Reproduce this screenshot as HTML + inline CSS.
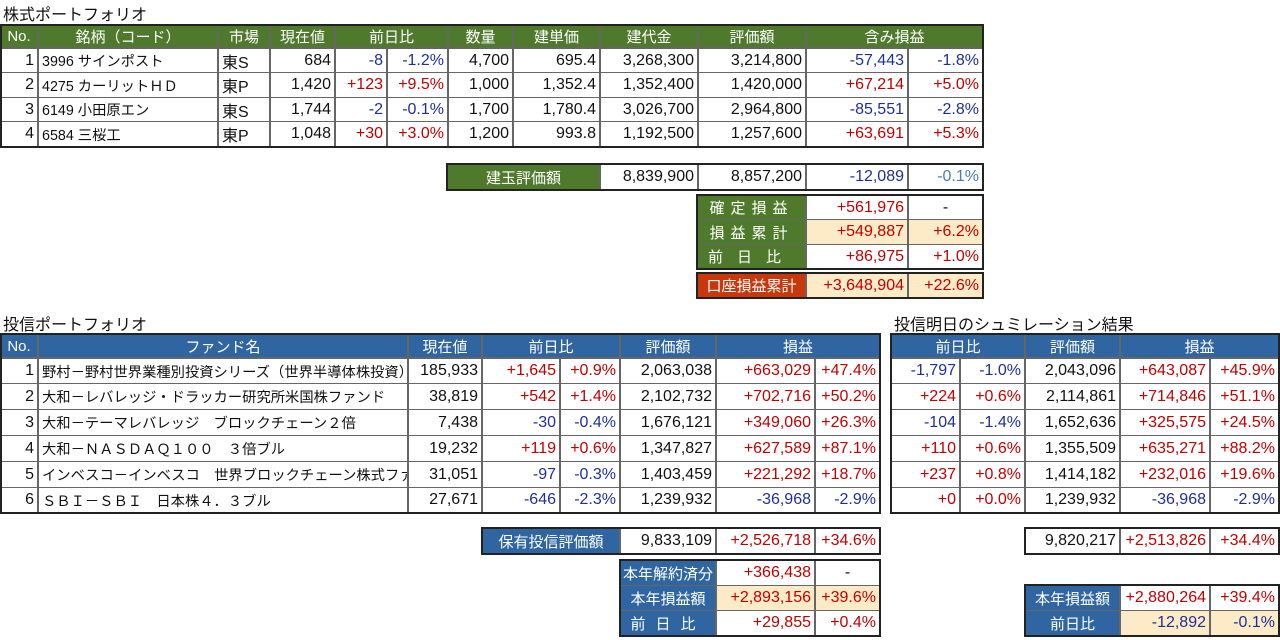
<!DOCTYPE html><html><head><meta charset="utf-8"><style>
body{margin:0;width:1280px;height:640px;background:#fff;position:relative;overflow:hidden;font-family:"Liberation Sans","Noto Sans CJK JP",sans-serif;font-size:16px;color:#111}
.c{position:absolute;box-sizing:border-box;border:1px solid #666;white-space:nowrap;overflow:hidden;display:flex;align-items:center;padding:0 3px;justify-content:flex-end}
.l{justify-content:flex-start;font-size:14.3px}.m{justify-content:center}
.g{background:#4f7a2c;color:#fff;justify-content:center;font-size:15px}
.b{background:#2f65a0;color:#fff;justify-content:center;font-size:15px}
.o{background:#c8380c;color:#fff;justify-content:center;font-size:15px}
.k{background:#fdebc8}
.r{color:#c00000}.u{color:#1f2f9a}.lu{color:#4a7ab8}
.t{position:absolute;font-size:16px}
.box{position:absolute;border:2px solid #222;box-sizing:border-box;pointer-events:none}
</style></head><body>
<div class="t" style="left:3px;top:1px">株式ポートフォリオ</div>
<div class="c g" style="left:0;top:25px;width:38px;height:23px">No.</div>
<div class="c g" style="left:38px;top:25px;width:180px;height:23px">銘柄（コード）</div>
<div class="c g" style="left:218px;top:25px;width:52px;height:23px">市場</div>
<div class="c g" style="left:270px;top:25px;width:65px;height:23px">現在値</div>
<div class="c g" style="left:335px;top:25px;width:113px;height:23px">前日比</div>
<div class="c g" style="left:448px;top:25px;width:65px;height:23px">数量</div>
<div class="c g" style="left:513px;top:25px;width:87px;height:23px">建単価</div>
<div class="c g" style="left:600px;top:25px;width:98px;height:23px">建代金</div>
<div class="c g" style="left:698px;top:25px;width:108px;height:23px">評価額</div>
<div class="c g" style="left:806px;top:25px;width:177px;height:23px">含み損益</div>
<div class="c" style="left:0;top:48px;width:38px;height:25px">1</div><div class="c l" style="left:38px;top:48px;width:180px;height:25px">3996 サインポスト</div><div class="c l" style="left:218px;top:48px;width:52px;height:25px;font-size:16px">東S</div><div class="c" style="left:270px;top:48px;width:65px;height:25px">684</div><div class="c u" style="left:335px;top:48px;width:52px;height:25px">-8</div><div class="c u" style="left:387px;top:48px;width:61px;height:25px">-1.2%</div><div class="c" style="left:448px;top:48px;width:65px;height:25px">4,700</div><div class="c" style="left:513px;top:48px;width:87px;height:25px">695.4</div><div class="c" style="left:600px;top:48px;width:98px;height:25px">3,268,300</div><div class="c" style="left:698px;top:48px;width:108px;height:25px">3,214,800</div><div class="c u" style="left:806px;top:48px;width:102px;height:25px">-57,443</div><div class="c u" style="left:908px;top:48px;width:75px;height:25px">-1.8%</div>
<div class="c" style="left:0;top:72px;width:38px;height:26px">2</div><div class="c l" style="left:38px;top:72px;width:180px;height:26px">4275 カーリットＨＤ</div><div class="c l" style="left:218px;top:72px;width:52px;height:26px;font-size:16px">東P</div><div class="c" style="left:270px;top:72px;width:65px;height:26px">1,420</div><div class="c r" style="left:335px;top:72px;width:52px;height:26px">+123</div><div class="c r" style="left:387px;top:72px;width:61px;height:26px">+9.5%</div><div class="c" style="left:448px;top:72px;width:65px;height:26px">1,000</div><div class="c" style="left:513px;top:72px;width:87px;height:26px">1,352.4</div><div class="c" style="left:600px;top:72px;width:98px;height:26px">1,352,400</div><div class="c" style="left:698px;top:72px;width:108px;height:26px">1,420,000</div><div class="c r" style="left:806px;top:72px;width:102px;height:26px">+67,214</div><div class="c r" style="left:908px;top:72px;width:75px;height:26px">+5.0%</div>
<div class="c" style="left:0;top:97px;width:38px;height:25px">3</div><div class="c l" style="left:38px;top:97px;width:180px;height:25px">6149 小田原エン</div><div class="c l" style="left:218px;top:97px;width:52px;height:25px;font-size:16px">東S</div><div class="c" style="left:270px;top:97px;width:65px;height:25px">1,744</div><div class="c u" style="left:335px;top:97px;width:52px;height:25px">-2</div><div class="c u" style="left:387px;top:97px;width:61px;height:25px">-0.1%</div><div class="c" style="left:448px;top:97px;width:65px;height:25px">1,700</div><div class="c" style="left:513px;top:97px;width:87px;height:25px">1,780.4</div><div class="c" style="left:600px;top:97px;width:98px;height:25px">3,026,700</div><div class="c" style="left:698px;top:97px;width:108px;height:25px">2,964,800</div><div class="c u" style="left:806px;top:97px;width:102px;height:25px">-85,551</div><div class="c u" style="left:908px;top:97px;width:75px;height:25px">-2.8%</div>
<div class="c" style="left:0;top:121px;width:38px;height:26px">4</div><div class="c l" style="left:38px;top:121px;width:180px;height:26px">6584 三桜工</div><div class="c l" style="left:218px;top:121px;width:52px;height:26px;font-size:16px">東P</div><div class="c" style="left:270px;top:121px;width:65px;height:26px">1,048</div><div class="c r" style="left:335px;top:121px;width:52px;height:26px">+30</div><div class="c r" style="left:387px;top:121px;width:61px;height:26px">+3.0%</div><div class="c" style="left:448px;top:121px;width:65px;height:26px">1,200</div><div class="c" style="left:513px;top:121px;width:87px;height:26px">993.8</div><div class="c" style="left:600px;top:121px;width:98px;height:26px">1,192,500</div><div class="c" style="left:698px;top:121px;width:108px;height:26px">1,257,600</div><div class="c r" style="left:806px;top:121px;width:102px;height:26px">+63,691</div><div class="c r" style="left:908px;top:121px;width:75px;height:26px">+5.3%</div>
<div class="box" style="left:0;top:24px;width:984px;height:124px"></div>
<div class="c g" style="left:447px;top:164px;width:153px;height:26px">建玉評価額</div>
<div class="c" style="left:600px;top:164px;width:98px;height:26px">8,839,900</div>
<div class="c" style="left:698px;top:164px;width:108px;height:26px">8,857,200</div>
<div class="c u" style="left:806px;top:164px;width:102px;height:26px">-12,089</div>
<div class="c lu" style="left:908px;top:164px;width:75px;height:26px">-0.1%</div>
<div class="box" style="left:446px;top:163px;width:538px;height:28px"></div>
<div class="c g" style="left:697px;top:195px;width:109px;height:25px;letter-spacing:6px">確定損益</div>
<div class="c r" style="left:806px;top:195px;width:102px;height:25px">+561,976</div>
<div class="c m" style="left:908px;top:195px;width:75px;height:25px">-</div>
<div class="c g" style="left:697px;top:219px;width:109px;height:26px;letter-spacing:6px">損益累計</div>
<div class="c r k" style="left:806px;top:219px;width:102px;height:26px">+549,887</div>
<div class="c r k" style="left:908px;top:219px;width:75px;height:26px">+6.2%</div>
<div class="c g" style="left:697px;top:244px;width:109px;height:25px;letter-spacing:14px">前日比</div>
<div class="c r" style="left:806px;top:244px;width:102px;height:25px">+86,975</div>
<div class="c r" style="left:908px;top:244px;width:75px;height:25px">+1.0%</div>
<div class="box" style="left:696px;top:194px;width:288px;height:76px"></div>
<div class="c o" style="left:697px;top:273px;width:109px;height:25px">口座損益累計</div>
<div class="c r k" style="left:806px;top:273px;width:102px;height:25px">+3,648,904</div>
<div class="c r k" style="left:908px;top:273px;width:75px;height:25px">+22.6%</div>
<div class="box" style="left:696px;top:272px;width:288px;height:27px"></div>
<div class="t" style="left:3px;top:311px">投信ポートフォリオ</div>
<div class="t" style="left:894px;top:311px">投信明日のシュミレーション結果</div>
<div class="c b" style="left:0;top:334px;width:38px;height:24px">No.</div>
<div class="c b" style="left:38px;top:334px;width:370px;height:24px">ファンド名</div>
<div class="c b" style="left:408px;top:334px;width:74px;height:24px">現在値</div>
<div class="c b" style="left:482px;top:334px;width:138px;height:24px">前日比</div>
<div class="c b" style="left:620px;top:334px;width:96px;height:24px">評価額</div>
<div class="c b" style="left:716px;top:334px;width:164px;height:24px">損益</div>
<div class="c b" style="left:891px;top:334px;width:134px;height:24px">前日比</div>
<div class="c b" style="left:1025px;top:334px;width:95px;height:24px">評価額</div>
<div class="c b" style="left:1120px;top:334px;width:159px;height:24px">損益</div>
<div class="c" style="left:0;top:358px;width:38px;height:26px">1</div><div class="c l" style="left:38px;top:358px;width:370px;height:26px">野村－野村世界業種別投資シリーズ（世界半導体株投資）</div><div class="c" style="left:408px;top:358px;width:74px;height:26px">185,933</div><div class="c r" style="left:482px;top:358px;width:78px;height:26px">+1,645</div><div class="c r" style="left:560px;top:358px;width:60px;height:26px">+0.9%</div><div class="c" style="left:620px;top:358px;width:96px;height:26px">2,063,038</div><div class="c r" style="left:716px;top:358px;width:99px;height:26px">+663,029</div><div class="c r" style="left:815px;top:358px;width:65px;height:26px">+47.4%</div><div class="c u" style="left:891px;top:358px;width:69px;height:26px">-1,797</div><div class="c u" style="left:960px;top:358px;width:65px;height:26px">-1.0%</div><div class="c" style="left:1025px;top:358px;width:95px;height:26px">2,043,096</div><div class="c r" style="left:1120px;top:358px;width:90px;height:26px">+643,087</div><div class="c r" style="left:1210px;top:358px;width:69px;height:26px">+45.9%</div>
<div class="c" style="left:0;top:383px;width:38px;height:27px">2</div><div class="c l" style="left:38px;top:383px;width:370px;height:27px">大和－レバレッジ・ドラッカー研究所米国株ファンド</div><div class="c" style="left:408px;top:383px;width:74px;height:27px">38,819</div><div class="c r" style="left:482px;top:383px;width:78px;height:27px">+542</div><div class="c r" style="left:560px;top:383px;width:60px;height:27px">+1.4%</div><div class="c" style="left:620px;top:383px;width:96px;height:27px">2,102,732</div><div class="c r" style="left:716px;top:383px;width:99px;height:27px">+702,716</div><div class="c r" style="left:815px;top:383px;width:65px;height:27px">+50.2%</div><div class="c r" style="left:891px;top:383px;width:69px;height:27px">+224</div><div class="c r" style="left:960px;top:383px;width:65px;height:27px">+0.6%</div><div class="c" style="left:1025px;top:383px;width:95px;height:27px">2,114,861</div><div class="c r" style="left:1120px;top:383px;width:90px;height:27px">+714,846</div><div class="c r" style="left:1210px;top:383px;width:69px;height:27px">+51.1%</div>
<div class="c" style="left:0;top:409px;width:38px;height:27px">3</div><div class="c l" style="left:38px;top:409px;width:370px;height:27px">大和－テーマレバレッジ　ブロックチェーン２倍</div><div class="c" style="left:408px;top:409px;width:74px;height:27px">7,438</div><div class="c u" style="left:482px;top:409px;width:78px;height:27px">-30</div><div class="c u" style="left:560px;top:409px;width:60px;height:27px">-0.4%</div><div class="c" style="left:620px;top:409px;width:96px;height:27px">1,676,121</div><div class="c r" style="left:716px;top:409px;width:99px;height:27px">+349,060</div><div class="c r" style="left:815px;top:409px;width:65px;height:27px">+26.3%</div><div class="c u" style="left:891px;top:409px;width:69px;height:27px">-104</div><div class="c u" style="left:960px;top:409px;width:65px;height:27px">-1.4%</div><div class="c" style="left:1025px;top:409px;width:95px;height:27px">1,652,636</div><div class="c r" style="left:1120px;top:409px;width:90px;height:27px">+325,575</div><div class="c r" style="left:1210px;top:409px;width:69px;height:27px">+24.5%</div>
<div class="c" style="left:0;top:435px;width:38px;height:27px">4</div><div class="c l" style="left:38px;top:435px;width:370px;height:27px">大和－ＮＡＳＤＡＱ１００　３倍ブル</div><div class="c" style="left:408px;top:435px;width:74px;height:27px">19,232</div><div class="c r" style="left:482px;top:435px;width:78px;height:27px">+119</div><div class="c r" style="left:560px;top:435px;width:60px;height:27px">+0.6%</div><div class="c" style="left:620px;top:435px;width:96px;height:27px">1,347,827</div><div class="c r" style="left:716px;top:435px;width:99px;height:27px">+627,589</div><div class="c r" style="left:815px;top:435px;width:65px;height:27px">+87.1%</div><div class="c r" style="left:891px;top:435px;width:69px;height:27px">+110</div><div class="c r" style="left:960px;top:435px;width:65px;height:27px">+0.6%</div><div class="c" style="left:1025px;top:435px;width:95px;height:27px">1,355,509</div><div class="c r" style="left:1120px;top:435px;width:90px;height:27px">+635,271</div><div class="c r" style="left:1210px;top:435px;width:69px;height:27px">+88.2%</div>
<div class="c" style="left:0;top:461px;width:38px;height:27px">5</div><div class="c l" style="left:38px;top:461px;width:370px;height:27px">インベスコ－インベスコ　世界ブロックチェーン株式ファンド</div><div class="c" style="left:408px;top:461px;width:74px;height:27px">31,051</div><div class="c u" style="left:482px;top:461px;width:78px;height:27px">-97</div><div class="c u" style="left:560px;top:461px;width:60px;height:27px">-0.3%</div><div class="c" style="left:620px;top:461px;width:96px;height:27px">1,403,459</div><div class="c r" style="left:716px;top:461px;width:99px;height:27px">+221,292</div><div class="c r" style="left:815px;top:461px;width:65px;height:27px">+18.7%</div><div class="c r" style="left:891px;top:461px;width:69px;height:27px">+237</div><div class="c r" style="left:960px;top:461px;width:65px;height:27px">+0.8%</div><div class="c" style="left:1025px;top:461px;width:95px;height:27px">1,414,182</div><div class="c r" style="left:1120px;top:461px;width:90px;height:27px">+232,016</div><div class="c r" style="left:1210px;top:461px;width:69px;height:27px">+19.6%</div>
<div class="c" style="left:0;top:487px;width:38px;height:26px">6</div><div class="c l" style="left:38px;top:487px;width:370px;height:26px">ＳＢＩ－ＳＢＩ　日本株４．３ブル</div><div class="c" style="left:408px;top:487px;width:74px;height:26px">27,671</div><div class="c u" style="left:482px;top:487px;width:78px;height:26px">-646</div><div class="c u" style="left:560px;top:487px;width:60px;height:26px">-2.3%</div><div class="c" style="left:620px;top:487px;width:96px;height:26px">1,239,932</div><div class="c u" style="left:716px;top:487px;width:99px;height:26px">-36,968</div><div class="c u" style="left:815px;top:487px;width:65px;height:26px">-2.9%</div><div class="c r" style="left:891px;top:487px;width:69px;height:26px">+0</div><div class="c r" style="left:960px;top:487px;width:65px;height:26px">+0.0%</div><div class="c" style="left:1025px;top:487px;width:95px;height:26px">1,239,932</div><div class="c u" style="left:1120px;top:487px;width:90px;height:26px">-36,968</div><div class="c u" style="left:1210px;top:487px;width:69px;height:26px">-2.9%</div>
<div class="box" style="left:0;top:333px;width:881px;height:181px"></div>
<div class="box" style="left:890px;top:333px;width:390px;height:181px"></div>
<div class="c b" style="left:482px;top:528px;width:138px;height:26px">保有投信評価額</div>
<div class="c" style="left:620px;top:528px;width:96px;height:26px">9,833,109</div>
<div class="c r" style="left:716px;top:528px;width:99px;height:26px">+2,526,718</div>
<div class="c r" style="left:815px;top:528px;width:65px;height:26px">+34.6%</div>
<div class="box" style="left:481px;top:527px;width:400px;height:28px"></div>
<div class="c b" style="left:620px;top:560px;width:96px;height:26px">本年解約済分</div>
<div class="c r" style="left:716px;top:560px;width:99px;height:26px">+366,438</div>
<div class="c m" style="left:815px;top:560px;width:65px;height:26px">-</div>
<div class="c b" style="left:620px;top:585px;width:96px;height:26px">本年損益額</div>
<div class="c r k" style="left:716px;top:585px;width:99px;height:26px">+2,893,156</div>
<div class="c r k" style="left:815px;top:585px;width:65px;height:26px">+39.6%</div>
<div class="c b" style="left:620px;top:610px;width:96px;height:26px;letter-spacing:10px">前日比</div>
<div class="c r" style="left:716px;top:610px;width:99px;height:26px">+29,855</div>
<div class="c r" style="left:815px;top:610px;width:65px;height:26px">+0.4%</div>
<div class="box" style="left:619px;top:559px;width:262px;height:78px"></div>
<div class="c" style="left:1025px;top:528px;width:95px;height:26px">9,820,217</div>
<div class="c r" style="left:1120px;top:528px;width:90px;height:26px">+2,513,826</div>
<div class="c r" style="left:1210px;top:528px;width:69px;height:26px">+34.4%</div>
<div class="box" style="left:1024px;top:527px;width:256px;height:28px"></div>
<div class="c b" style="left:1025px;top:585px;width:95px;height:26px">本年損益額</div>
<div class="c r" style="left:1120px;top:585px;width:90px;height:26px">+2,880,264</div>
<div class="c r" style="left:1210px;top:585px;width:69px;height:26px">+39.4%</div>
<div class="c b" style="left:1025px;top:610px;width:95px;height:26px">前日比</div>
<div class="c u k" style="left:1120px;top:610px;width:90px;height:26px">-12,892</div>
<div class="c u k" style="left:1210px;top:610px;width:69px;height:26px">-0.1%</div>
<div class="box" style="left:1024px;top:584px;width:256px;height:53px"></div>
</body></html>
